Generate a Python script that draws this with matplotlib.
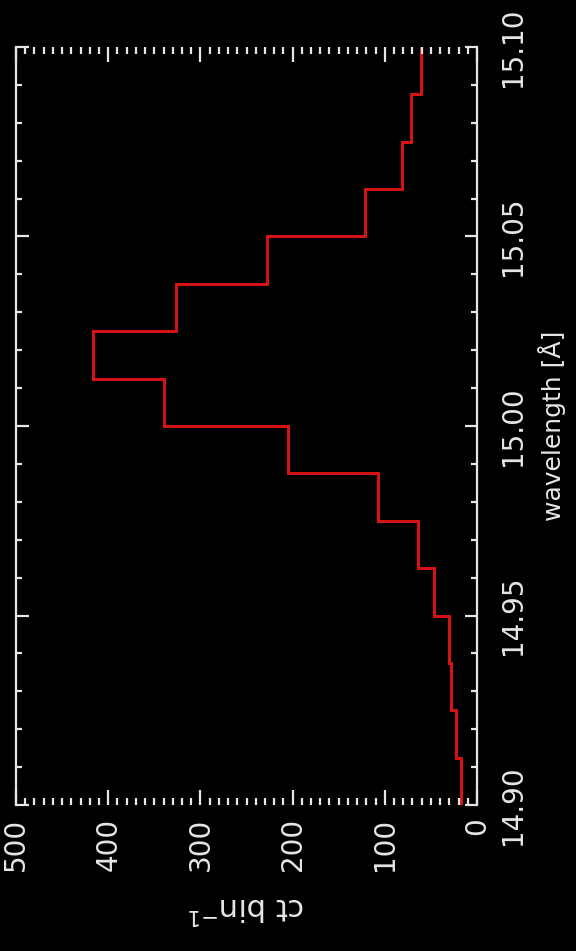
import numpy as np
import matplotlib
matplotlib.use("Agg")
import matplotlib.pyplot as plt
from matplotlib.ticker import MultipleLocator, FormatStrFormatter

# histogram of the line (bin width 0.0125 A)
bin_edges = np.round(np.arange(14.90, 15.1001, 0.0125), 4)
counts = [17, 23, 28, 30, 47, 64, 107, 205, 339, 416, 326, 228, 122, 81, 72, 61]

count_ticks = [0, 100, 200, 300, 400, 500]
wave_ticks = [14.90, 14.95, 15.00, 15.05, 15.10]

fg = "#e6e6e6"
W, H = 576, 951

fig = plt.figure(figsize=(W / 100, H / 100), dpi=100, facecolor="black")
# plot is drawn turned on its side: counts run right-to-left, wavelength upward
ax = fig.add_axes([16 / W, 1 - 805 / H, (477 - 16) / W, (805 - 47) / H])
ax.set_facecolor("black")

ax.stairs(counts, bin_edges, orientation="horizontal", baseline=None,
          color="#d41414", lw=2.2)

ax.set_xlim(500, 0)
ax.set_ylim(14.90, 15.10)

for side in ("top", "bottom"):
    ax.spines[side].set_visible(False)
for side in ("left", "right"):
    ax.spines[side].set_color(fg)
    ax.spines[side].set_linewidth(1.6)

ax.set_xticks(count_ticks)
ax.xaxis.set_minor_locator(MultipleLocator(10))
ax.set_yticks(wave_ticks)
ax.yaxis.set_major_formatter(FormatStrFormatter("%.2f"))
ax.yaxis.set_minor_locator(MultipleLocator(0.01))

ax.tick_params(axis="x", which="both", direction="in", top=True, bottom=True,
               color=fg, width=1.6, labelcolor=fg, labelsize=20,
               labelrotation=90, pad=9)
ax.tick_params(axis="x", which="major", length=11)
ax.tick_params(axis="x", which="minor", length=5)
ax.tick_params(axis="y", which="both", direction="in", left=True, right=True,
               labelleft=False, labelright=True, color=fg, width=1.6,
               labelcolor=fg, labelsize=20, labelrotation=90, pad=16)
ax.tick_params(axis="y", which="major", length=9)
ax.tick_params(axis="y", which="minor", length=4.5)
for lab in ax.get_yticklabels():
    lab.set_verticalalignment("center")

ax.yaxis.set_label_position("right")
ax.set_ylabel("wavelength [Å]", color=fg, fontsize=18, rotation=90,
              labelpad=8)
ax.set_xlabel(r"ct bin$^{-1}$", color=fg, fontsize=22, rotation=180,
              labelpad=14)

fig.savefig("out.png", dpi=100, facecolor="black")
